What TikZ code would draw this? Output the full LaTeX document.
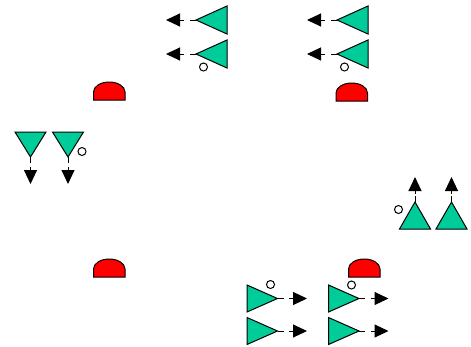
\documentclass[tikz,border=0pt]{standalone}
\usetikzlibrary{arrows.meta}
\definecolor{bufgreen}{RGB}{0,204,153}
\tikzset{
  buf/.style={draw=black, fill=bufgreen, line width=1pt, line join=miter},
  stub/.style={line width=1pt},
  sig/.style={line width=1pt, -{Triangle[length=14pt,width=13pt]}},
  bub/.style={draw=black, fill=white, line width=1pt},
  pad/.style={draw=black, fill=red, line width=1pt}
}
\begin{document}
\begin{tikzpicture}[x=1pt,y=-1pt]
  \useasboundingbox (0,0) rectangle (471,346);

  % outputs to the left (top)
  \foreach \x in {0,141} {
    \draw[buf] (227+\x,6) -- (227+\x,34) -- (196+\x,20) -- cycle;
    \draw[stub] (196+\x,20) -- (190+\x,20);
    \draw[sig] (184+\x,20) -- (166+\x,20);
    \draw[buf] (227+\x,40) -- (227+\x,68) -- (196+\x,54) -- cycle;
    \draw[stub] (196+\x,54) -- (190+\x,54);
    \draw[sig] (184+\x,54) -- (166+\x,54);
  }
  \draw[bub] (203.5,67) circle (4);
  \draw[bub] (344.5,67) circle (4);

  % outputs downward (left)
  \foreach \x in {0,37.5} {
    \draw[buf] (15+\x,132) -- (46+\x,132) -- (30.5+\x,157) -- cycle;
    \draw[stub] (30.5+\x,157) -- (30.5+\x,163);
    \draw[sig] (30.5+\x,167) -- (30.5+\x,184);
  }
  \draw[bub] (82,151.5) circle (4);

  % outputs upward (right)
  \foreach \x in {0,36.5} {
    \draw[buf] (399.5+\x,229) -- (430.5+\x,229) -- (415+\x,202) -- cycle;
    \draw[stub] (415+\x,202) -- (415+\x,196);
    \draw[sig] (415+\x,194) -- (415+\x,177);
  }
  \draw[bub] (398.5,209.5) circle (4);

  % outputs to the right (bottom)
  \foreach \x in {0,81.5} {
    \foreach \y in {0,32.5} {
      \draw[buf] (247+\x,285+\y) -- (247+\x,312+\y) -- (277.5+\x,298.5+\y) -- cycle;
      \draw[stub] (277.5+\x,298.5+\y) -- (283.5+\x,298.5+\y);
      \draw[sig] (289+\x,298.5+\y) -- (307+\x,298.5+\y);
    }
  }
  \draw[bub] (270.5,284.5) circle (4);
  \draw[bub] (351.5,285) circle (4);

  % pads
  \foreach \px/\py in {93.5/100, 336/101, 93.5/277, 348.5/277} {
    \draw[pad] (\px,\py) -- (\px,\py-8) arc[start angle=180, end angle=360, x radius=15.75, y radius=10] -- (\px+31.5,\py) -- cycle;
  }
\end{tikzpicture}
\end{document}
